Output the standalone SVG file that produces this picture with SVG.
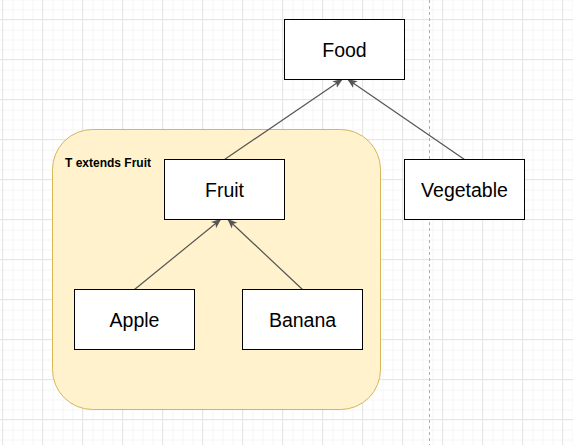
<svg xmlns="http://www.w3.org/2000/svg" width="573" height="445" viewBox="0 0 573 445">
<defs>
<pattern id="minor" x="2.5" y="9.5" width="10" height="10" patternUnits="userSpaceOnUse">
<path d="M0 0.5 H10 M0.5 0 V10" stroke="#f5f5f5" stroke-width="1" fill="none"/>
</pattern>
<pattern id="major" x="2" y="19" width="40" height="40" patternUnits="userSpaceOnUse">
<path d="M0 0.5 H40 M0.5 0 V40" stroke="#e6e6e6" stroke-width="1" fill="none"/>
</pattern>
<marker id="arr" viewBox="0 0 10 10" refX="9" refY="5" markerWidth="10" markerHeight="10" markerUnits="userSpaceOnUse" orient="auto">
<path d="M0,1 L10,5 L0,9 L2.5,5 Z" fill="#555"/>
</marker>
<style>
.box{fill:#fff;stroke:#000;stroke-width:1}
.lbl{font-family:"Liberation Sans",Arial,sans-serif;font-size:19.5px;fill:#000;text-anchor:middle}
.edge{stroke:#555;stroke-width:1.2;fill:none;marker-end:url(#arr)}
</style>
</defs>
<rect width="573" height="445" fill="#fff"/>
<rect width="573" height="445" fill="url(#minor)"/>
<rect width="573" height="445" fill="url(#major)"/>
<line x1="429.5" y1="0" x2="429.5" y2="445" stroke="#b0b0b0" stroke-width="1" stroke-dasharray="3 3"/>
<g id="container">
<rect x="52.5" y="129.5" width="328" height="280" rx="40" ry="40" fill="#fff2cc" stroke="#d6b656" stroke-width="1"/>
<text x="65" y="167" font-family="Liberation Sans,Arial,sans-serif" font-size="12px" font-weight="bold" fill="#000">T extends Fruit</text>
</g>
<g id="connectors">
<path class="edge" d="M224.5 159.5 L342 79.5"/>
<path class="edge" d="M464.5 159.5 L348 79.5"/>
<path class="edge" d="M134.5 289.5 L220.5 219.5"/>
<path class="edge" d="M302.5 289.5 L228 219.5"/>
</g>
<g id="food">
<rect class="box" x="284.5" y="19.5" width="120" height="60"/>
<text class="lbl" x="344.5" y="56.5">Food</text>
</g>
<g id="vegetable">
<rect class="box" x="404.5" y="159.5" width="120" height="60"/>
<text class="lbl" x="464.5" y="196.5">Vegetable</text>
</g>
<g id="fruit">
<rect class="box" x="164.5" y="159.5" width="120" height="60"/>
<text class="lbl" x="224.5" y="196.5">Fruit</text>
</g>
<g id="apple">
<rect class="box" x="74.5" y="289.5" width="120" height="60"/>
<text class="lbl" x="134.5" y="326.5">Apple</text>
</g>
<g id="banana">
<rect class="box" x="242.5" y="289.5" width="120" height="60"/>
<text class="lbl" x="302.5" y="326.5">Banana</text>
</g>
</svg>
